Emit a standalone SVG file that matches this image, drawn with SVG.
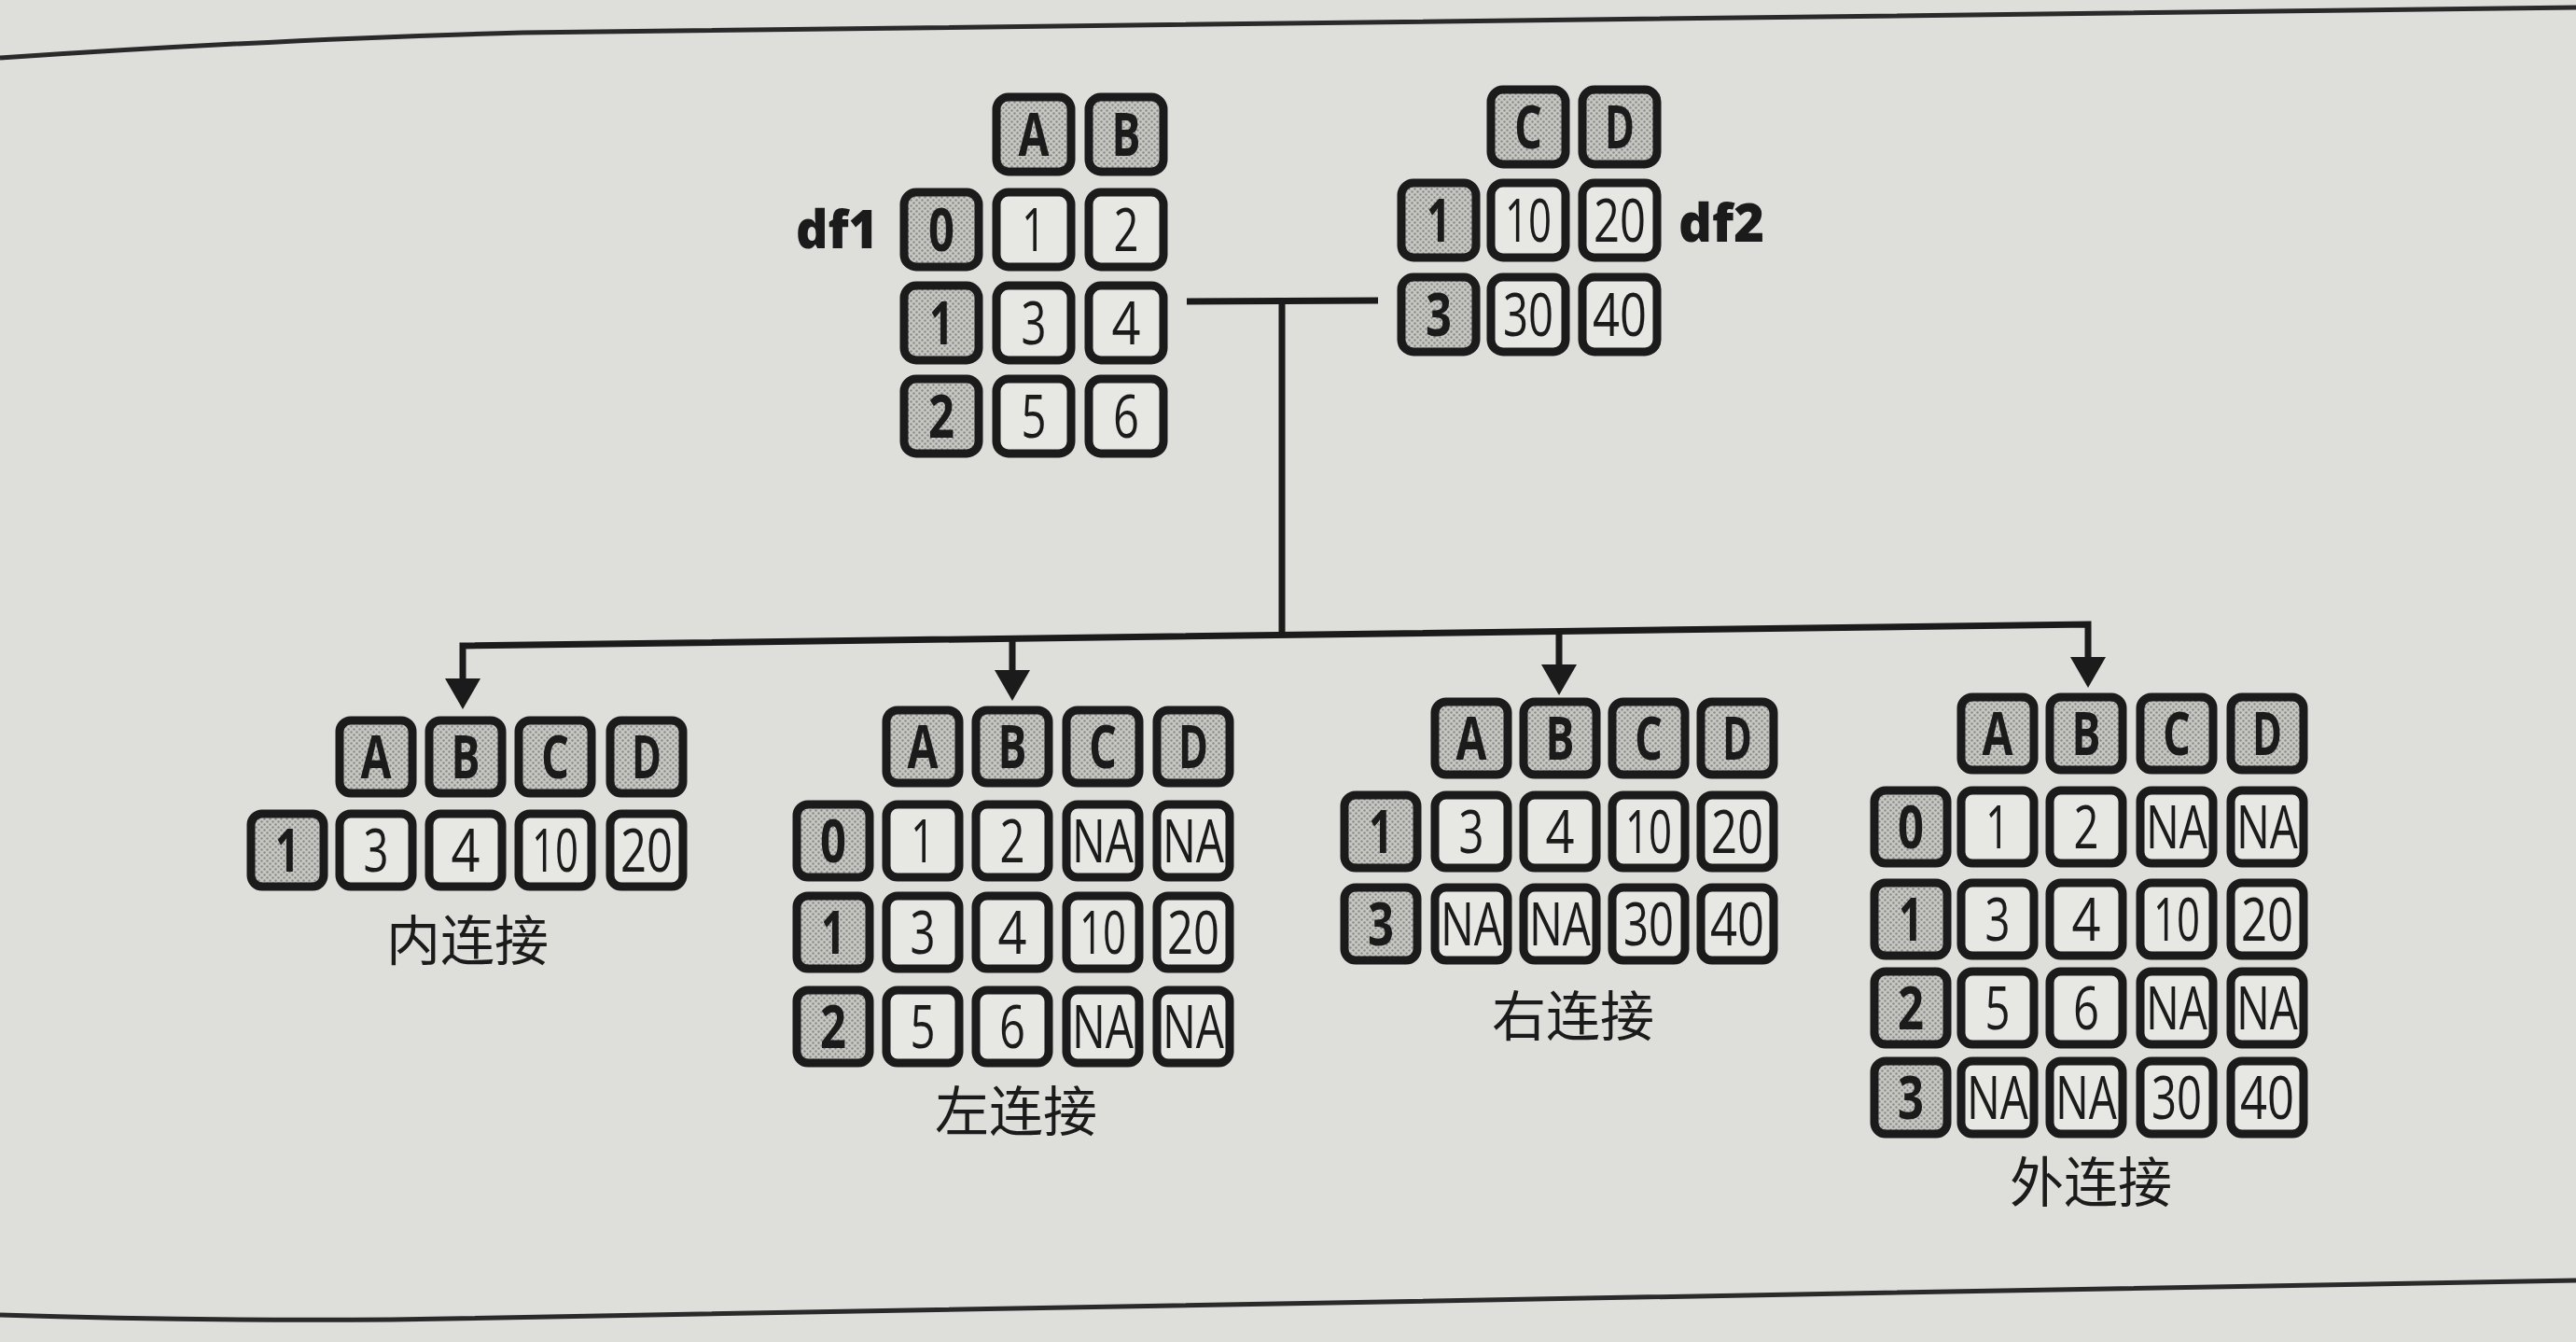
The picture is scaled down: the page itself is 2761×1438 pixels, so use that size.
<svg xmlns="http://www.w3.org/2000/svg" width="2761" height="1438" viewBox="0 0 2761 1438">
<defs>
<pattern id="dots" patternUnits="userSpaceOnUse" width="6" height="6">
<rect width="6" height="6" fill="#c6c6c2"/>
<circle cx="1.5" cy="1.5" r="1.2" fill="#8a8a86"/>
<circle cx="4.5" cy="4.5" r="1.2" fill="#8a8a86"/>
</pattern>
<marker id="arr" markerUnits="userSpaceOnUse" viewBox="0 -20 34 40" markerWidth="34" markerHeight="40" refX="21" refY="0" orient="auto-start-reverse">
<path d="M0,-19 L33,0 L0,19 Z" fill="#1b1b1b"/>
</marker>
<style>
.h{fill:url(#dots);stroke:#1b1b1b;stroke-width:9}
.d{fill:#e7e7e4;stroke:#1b1b1b;stroke-width:9}
.v{font-family:"Open Sans","Noto Sans","DejaVu Sans",sans-serif;font-size:64px;text-anchor:middle;fill:#1b1b1b}
.k{font-weight:700}
.s{font-weight:700}
.lab{font-family:"Noto Sans CJK SC","Noto Sans",sans-serif;font-size:58px;text-anchor:middle;fill:#1b1b1b}
.nm{font-family:"Open Sans","Noto Sans",sans-serif;font-size:56px;font-weight:800;fill:#1b1b1b}
.ln{fill:none;stroke:#1b1b1b;stroke-width:7;stroke-linejoin:miter}
.pg{fill:none;stroke:#2a2a2a;stroke-width:5}
</style>
</defs>
<rect width="2761" height="1438" fill="#dededb"/>
<path class="pg" d="M0,62 C180,50 360,40 560,35 S1600,20 2761,8"/>
<path class="pg" d="M0,1409 C150,1414 280,1415 420,1414 L2761,1372"/>

<g id="connectors">
<path class="ln" d="M1272,323 L1477,322"/>
<path class="ln" d="M1374,323 L1374,681"/>
<path class="ln" d="M496,748 L496,692 L2238,669 L2238,725" marker-start="url(#arr)" marker-end="url(#arr)"/>
<path class="ln" d="M1085,684 L1085,739" marker-end="url(#arr)"/>
<path class="ln" d="M1671,676 L1671,733" marker-end="url(#arr)"/>
</g>

<g id="df1">
<text class="nm" x="853" y="266" textLength="88" lengthAdjust="spacingAndGlyphs">df1</text>
<rect class="h" x="1068" y="104" width="80" height="80" rx="13"/>
<rect class="h" x="1167" y="104" width="80" height="80" rx="13"/>
<rect class="h" x="969" y="206" width="80" height="80" rx="13"/>
<rect class="d" x="1068" y="206" width="80" height="80" rx="13"/>
<rect class="d" x="1167" y="206" width="80" height="80" rx="13"/>
<rect class="h" x="969" y="306" width="80" height="80" rx="13"/>
<rect class="d" x="1068" y="306" width="80" height="80" rx="13"/>
<rect class="d" x="1167" y="306" width="80" height="80" rx="13"/>
<rect class="h" x="969" y="406" width="80" height="80" rx="13"/>
<rect class="d" x="1068" y="406" width="80" height="80" rx="13"/>
<rect class="d" x="1167" y="406" width="80" height="80" rx="13"/>
<text class="v s" x="1108" y="167" textLength="33" lengthAdjust="spacingAndGlyphs">A</text>
<text class="v s" x="1207" y="167" textLength="31" lengthAdjust="spacingAndGlyphs">B</text>
<text class="v k" x="1009" y="269" textLength="28" lengthAdjust="spacingAndGlyphs">0</text>
<text class="v" x="1108" y="269" textLength="26" lengthAdjust="spacingAndGlyphs">1</text>
<text class="v" x="1207" y="269" textLength="27" lengthAdjust="spacingAndGlyphs">2</text>
<text class="v k" x="1009" y="369" textLength="26" lengthAdjust="spacingAndGlyphs">1</text>
<text class="v" x="1108" y="369" textLength="27" lengthAdjust="spacingAndGlyphs">3</text>
<text class="v" x="1207" y="369" textLength="31" lengthAdjust="spacingAndGlyphs">4</text>
<text class="v k" x="1009" y="469" textLength="28" lengthAdjust="spacingAndGlyphs">2</text>
<text class="v" x="1108" y="469" textLength="27" lengthAdjust="spacingAndGlyphs">5</text>
<text class="v" x="1207" y="469" textLength="28" lengthAdjust="spacingAndGlyphs">6</text>
</g>

<g id="df2">
<text class="nm" x="1799" y="259" textLength="92" lengthAdjust="spacingAndGlyphs">df2</text>
<rect class="h" x="1598" y="96" width="80" height="80" rx="13"/>
<rect class="h" x="1696" y="96" width="80" height="80" rx="13"/>
<rect class="h" x="1502" y="196" width="80" height="80" rx="13"/>
<rect class="d" x="1598" y="196" width="80" height="80" rx="13"/>
<rect class="d" x="1696" y="196" width="80" height="80" rx="13"/>
<rect class="h" x="1502" y="297" width="80" height="80" rx="13"/>
<rect class="d" x="1598" y="297" width="80" height="80" rx="13"/>
<rect class="d" x="1696" y="297" width="80" height="80" rx="13"/>
<text class="v s" x="1638" y="159" textLength="30" lengthAdjust="spacingAndGlyphs">C</text>
<text class="v s" x="1736" y="159" textLength="32" lengthAdjust="spacingAndGlyphs">D</text>
<text class="v k" x="1542" y="259" textLength="26" lengthAdjust="spacingAndGlyphs">1</text>
<text class="v" x="1638" y="259" textLength="50" lengthAdjust="spacingAndGlyphs">10</text>
<text class="v" x="1736" y="259" textLength="56" lengthAdjust="spacingAndGlyphs">20</text>
<text class="v k" x="1542" y="360" textLength="28" lengthAdjust="spacingAndGlyphs">3</text>
<text class="v" x="1638" y="360" textLength="54" lengthAdjust="spacingAndGlyphs">30</text>
<text class="v" x="1736" y="360" textLength="58" lengthAdjust="spacingAndGlyphs">40</text>
</g>

<g id="inner">
<rect class="h" x="364" y="772" width="78" height="78" rx="12"/>
<rect class="h" x="460" y="772" width="78" height="78" rx="12"/>
<rect class="h" x="556" y="772" width="78" height="78" rx="12"/>
<rect class="h" x="654" y="772" width="78" height="78" rx="12"/>
<rect class="h" x="269" y="872" width="78" height="78" rx="12"/>
<rect class="d" x="364" y="872" width="78" height="78" rx="12"/>
<rect class="d" x="460" y="872" width="78" height="78" rx="12"/>
<rect class="d" x="556" y="872" width="78" height="78" rx="12"/>
<rect class="d" x="654" y="872" width="78" height="78" rx="12"/>
<text class="v s" x="403" y="834" textLength="33" lengthAdjust="spacingAndGlyphs">A</text>
<text class="v s" x="499" y="834" textLength="31" lengthAdjust="spacingAndGlyphs">B</text>
<text class="v s" x="595" y="834" textLength="30" lengthAdjust="spacingAndGlyphs">C</text>
<text class="v s" x="693" y="834" textLength="32" lengthAdjust="spacingAndGlyphs">D</text>
<text class="v k" x="308" y="934" textLength="26" lengthAdjust="spacingAndGlyphs">1</text>
<text class="v" x="403" y="934" textLength="27" lengthAdjust="spacingAndGlyphs">3</text>
<text class="v" x="499" y="934" textLength="31" lengthAdjust="spacingAndGlyphs">4</text>
<text class="v" x="595" y="934" textLength="50" lengthAdjust="spacingAndGlyphs">10</text>
<text class="v" x="693" y="934" textLength="56" lengthAdjust="spacingAndGlyphs">20</text>
<text class="lab" x="501" y="1029">内连接</text>
</g>

<g id="left">
<rect class="h" x="950" y="761" width="78" height="78" rx="12"/>
<rect class="h" x="1046" y="761" width="78" height="78" rx="12"/>
<rect class="h" x="1143" y="761" width="78" height="78" rx="12"/>
<rect class="h" x="1240" y="761" width="78" height="78" rx="12"/>
<rect class="h" x="854" y="862" width="78" height="78" rx="12"/>
<rect class="d" x="950" y="862" width="78" height="78" rx="12"/>
<rect class="d" x="1046" y="862" width="78" height="78" rx="12"/>
<rect class="d" x="1143" y="862" width="78" height="78" rx="12"/>
<rect class="d" x="1240" y="862" width="78" height="78" rx="12"/>
<rect class="h" x="854" y="960" width="78" height="78" rx="12"/>
<rect class="d" x="950" y="960" width="78" height="78" rx="12"/>
<rect class="d" x="1046" y="960" width="78" height="78" rx="12"/>
<rect class="d" x="1143" y="960" width="78" height="78" rx="12"/>
<rect class="d" x="1240" y="960" width="78" height="78" rx="12"/>
<rect class="h" x="854" y="1061" width="78" height="78" rx="12"/>
<rect class="d" x="950" y="1061" width="78" height="78" rx="12"/>
<rect class="d" x="1046" y="1061" width="78" height="78" rx="12"/>
<rect class="d" x="1143" y="1061" width="78" height="78" rx="12"/>
<rect class="d" x="1240" y="1061" width="78" height="78" rx="12"/>
<text class="v s" x="989" y="823" textLength="33" lengthAdjust="spacingAndGlyphs">A</text>
<text class="v s" x="1085" y="823" textLength="31" lengthAdjust="spacingAndGlyphs">B</text>
<text class="v s" x="1182" y="823" textLength="30" lengthAdjust="spacingAndGlyphs">C</text>
<text class="v s" x="1279" y="823" textLength="32" lengthAdjust="spacingAndGlyphs">D</text>
<text class="v k" x="893" y="924" textLength="28" lengthAdjust="spacingAndGlyphs">0</text>
<text class="v" x="989" y="924" textLength="26" lengthAdjust="spacingAndGlyphs">1</text>
<text class="v" x="1085" y="924" textLength="27" lengthAdjust="spacingAndGlyphs">2</text>
<text class="v" x="1182" y="924" textLength="66" lengthAdjust="spacingAndGlyphs">NA</text>
<text class="v" x="1279" y="924" textLength="66" lengthAdjust="spacingAndGlyphs">NA</text>
<text class="v k" x="893" y="1022" textLength="26" lengthAdjust="spacingAndGlyphs">1</text>
<text class="v" x="989" y="1022" textLength="27" lengthAdjust="spacingAndGlyphs">3</text>
<text class="v" x="1085" y="1022" textLength="31" lengthAdjust="spacingAndGlyphs">4</text>
<text class="v" x="1182" y="1022" textLength="50" lengthAdjust="spacingAndGlyphs">10</text>
<text class="v" x="1279" y="1022" textLength="56" lengthAdjust="spacingAndGlyphs">20</text>
<text class="v k" x="893" y="1123" textLength="28" lengthAdjust="spacingAndGlyphs">2</text>
<text class="v" x="989" y="1123" textLength="27" lengthAdjust="spacingAndGlyphs">5</text>
<text class="v" x="1085" y="1123" textLength="28" lengthAdjust="spacingAndGlyphs">6</text>
<text class="v" x="1182" y="1123" textLength="66" lengthAdjust="spacingAndGlyphs">NA</text>
<text class="v" x="1279" y="1123" textLength="66" lengthAdjust="spacingAndGlyphs">NA</text>
<text class="lab" x="1089" y="1212">左连接</text>
</g>

<g id="right">
<rect class="h" x="1538" y="752" width="78" height="78" rx="12"/>
<rect class="h" x="1633" y="752" width="78" height="78" rx="12"/>
<rect class="h" x="1728" y="752" width="78" height="78" rx="12"/>
<rect class="h" x="1823" y="752" width="78" height="78" rx="12"/>
<rect class="h" x="1441" y="852" width="78" height="78" rx="12"/>
<rect class="d" x="1538" y="852" width="78" height="78" rx="12"/>
<rect class="d" x="1633" y="852" width="78" height="78" rx="12"/>
<rect class="d" x="1728" y="852" width="78" height="78" rx="12"/>
<rect class="d" x="1823" y="852" width="78" height="78" rx="12"/>
<rect class="h" x="1441" y="951" width="78" height="78" rx="12"/>
<rect class="d" x="1538" y="951" width="78" height="78" rx="12"/>
<rect class="d" x="1633" y="951" width="78" height="78" rx="12"/>
<rect class="d" x="1728" y="951" width="78" height="78" rx="12"/>
<rect class="d" x="1823" y="951" width="78" height="78" rx="12"/>
<text class="v s" x="1577" y="814" textLength="33" lengthAdjust="spacingAndGlyphs">A</text>
<text class="v s" x="1672" y="814" textLength="31" lengthAdjust="spacingAndGlyphs">B</text>
<text class="v s" x="1767" y="814" textLength="30" lengthAdjust="spacingAndGlyphs">C</text>
<text class="v s" x="1862" y="814" textLength="32" lengthAdjust="spacingAndGlyphs">D</text>
<text class="v k" x="1480" y="914" textLength="26" lengthAdjust="spacingAndGlyphs">1</text>
<text class="v" x="1577" y="914" textLength="27" lengthAdjust="spacingAndGlyphs">3</text>
<text class="v" x="1672" y="914" textLength="31" lengthAdjust="spacingAndGlyphs">4</text>
<text class="v" x="1767" y="914" textLength="50" lengthAdjust="spacingAndGlyphs">10</text>
<text class="v" x="1862" y="914" textLength="56" lengthAdjust="spacingAndGlyphs">20</text>
<text class="v k" x="1480" y="1013" textLength="28" lengthAdjust="spacingAndGlyphs">3</text>
<text class="v" x="1577" y="1013" textLength="66" lengthAdjust="spacingAndGlyphs">NA</text>
<text class="v" x="1672" y="1013" textLength="66" lengthAdjust="spacingAndGlyphs">NA</text>
<text class="v" x="1767" y="1013" textLength="54" lengthAdjust="spacingAndGlyphs">30</text>
<text class="v" x="1862" y="1013" textLength="58" lengthAdjust="spacingAndGlyphs">40</text>
<text class="lab" x="1686" y="1110">右连接</text>
</g>

<g id="outer">
<rect class="h" x="2102" y="747" width="78" height="78" rx="12"/>
<rect class="h" x="2197" y="747" width="78" height="78" rx="12"/>
<rect class="h" x="2294" y="747" width="78" height="78" rx="12"/>
<rect class="h" x="2391" y="747" width="78" height="78" rx="12"/>
<rect class="h" x="2009" y="847" width="78" height="78" rx="12"/>
<rect class="d" x="2102" y="847" width="78" height="78" rx="12"/>
<rect class="d" x="2197" y="847" width="78" height="78" rx="12"/>
<rect class="d" x="2294" y="847" width="78" height="78" rx="12"/>
<rect class="d" x="2391" y="847" width="78" height="78" rx="12"/>
<rect class="h" x="2009" y="946" width="78" height="78" rx="12"/>
<rect class="d" x="2102" y="946" width="78" height="78" rx="12"/>
<rect class="d" x="2197" y="946" width="78" height="78" rx="12"/>
<rect class="d" x="2294" y="946" width="78" height="78" rx="12"/>
<rect class="d" x="2391" y="946" width="78" height="78" rx="12"/>
<rect class="h" x="2009" y="1041" width="78" height="78" rx="12"/>
<rect class="d" x="2102" y="1041" width="78" height="78" rx="12"/>
<rect class="d" x="2197" y="1041" width="78" height="78" rx="12"/>
<rect class="d" x="2294" y="1041" width="78" height="78" rx="12"/>
<rect class="d" x="2391" y="1041" width="78" height="78" rx="12"/>
<rect class="h" x="2009" y="1137" width="78" height="78" rx="12"/>
<rect class="d" x="2102" y="1137" width="78" height="78" rx="12"/>
<rect class="d" x="2197" y="1137" width="78" height="78" rx="12"/>
<rect class="d" x="2294" y="1137" width="78" height="78" rx="12"/>
<rect class="d" x="2391" y="1137" width="78" height="78" rx="12"/>
<text class="v s" x="2141" y="809" textLength="33" lengthAdjust="spacingAndGlyphs">A</text>
<text class="v s" x="2236" y="809" textLength="31" lengthAdjust="spacingAndGlyphs">B</text>
<text class="v s" x="2333" y="809" textLength="30" lengthAdjust="spacingAndGlyphs">C</text>
<text class="v s" x="2430" y="809" textLength="32" lengthAdjust="spacingAndGlyphs">D</text>
<text class="v k" x="2048" y="909" textLength="28" lengthAdjust="spacingAndGlyphs">0</text>
<text class="v" x="2141" y="909" textLength="26" lengthAdjust="spacingAndGlyphs">1</text>
<text class="v" x="2236" y="909" textLength="27" lengthAdjust="spacingAndGlyphs">2</text>
<text class="v" x="2333" y="909" textLength="66" lengthAdjust="spacingAndGlyphs">NA</text>
<text class="v" x="2430" y="909" textLength="66" lengthAdjust="spacingAndGlyphs">NA</text>
<text class="v k" x="2048" y="1008" textLength="26" lengthAdjust="spacingAndGlyphs">1</text>
<text class="v" x="2141" y="1008" textLength="27" lengthAdjust="spacingAndGlyphs">3</text>
<text class="v" x="2236" y="1008" textLength="31" lengthAdjust="spacingAndGlyphs">4</text>
<text class="v" x="2333" y="1008" textLength="50" lengthAdjust="spacingAndGlyphs">10</text>
<text class="v" x="2430" y="1008" textLength="56" lengthAdjust="spacingAndGlyphs">20</text>
<text class="v k" x="2048" y="1103" textLength="28" lengthAdjust="spacingAndGlyphs">2</text>
<text class="v" x="2141" y="1103" textLength="27" lengthAdjust="spacingAndGlyphs">5</text>
<text class="v" x="2236" y="1103" textLength="28" lengthAdjust="spacingAndGlyphs">6</text>
<text class="v" x="2333" y="1103" textLength="66" lengthAdjust="spacingAndGlyphs">NA</text>
<text class="v" x="2430" y="1103" textLength="66" lengthAdjust="spacingAndGlyphs">NA</text>
<text class="v k" x="2048" y="1199" textLength="28" lengthAdjust="spacingAndGlyphs">3</text>
<text class="v" x="2141" y="1199" textLength="66" lengthAdjust="spacingAndGlyphs">NA</text>
<text class="v" x="2236" y="1199" textLength="66" lengthAdjust="spacingAndGlyphs">NA</text>
<text class="v" x="2333" y="1199" textLength="54" lengthAdjust="spacingAndGlyphs">30</text>
<text class="v" x="2430" y="1199" textLength="58" lengthAdjust="spacingAndGlyphs">40</text>
<text class="lab" x="2241" y="1288">外连接</text>
</g>
</svg>
